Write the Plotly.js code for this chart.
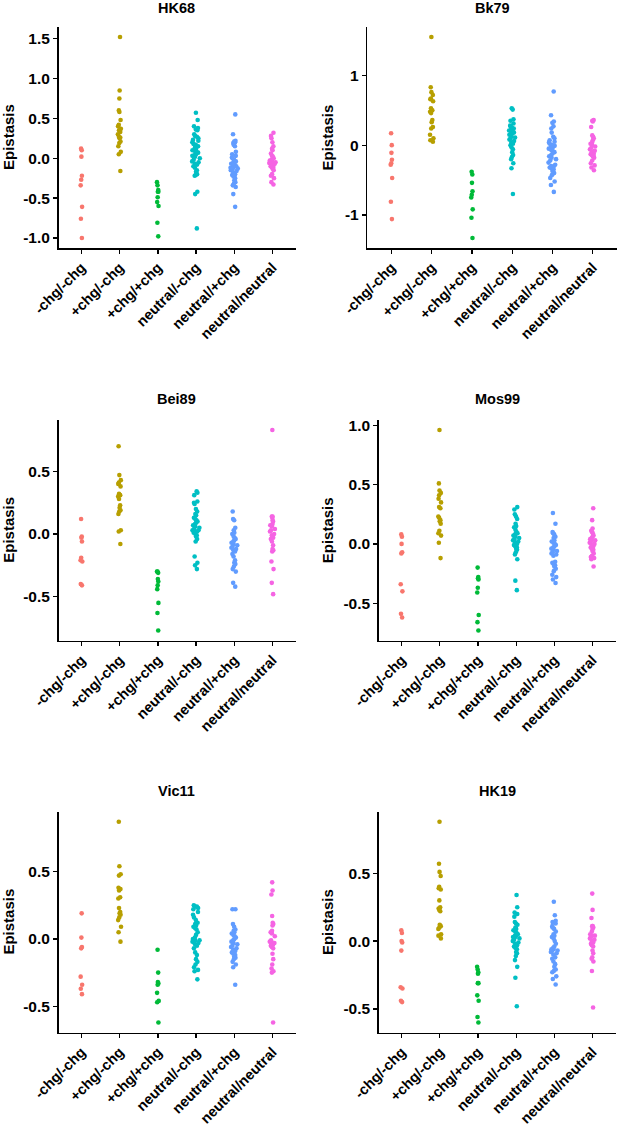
<!DOCTYPE html>
<html>
<head>
<meta charset="utf-8">
<script src="https://cdn.plot.ly/plotly-3.0.1.min.js"></script>
<style>html,body{margin:0;padding:0;background:#ffffff;}#chart{width:617px;height:1129px;}</style>
</head>
<body>
<div id="chart"></div>
<script>
// ---------- categories / colours ----------
const categories = ['-chg/-chg', '+chg/-chg', '+chg/+chg', 'neutral/-chg', 'neutral/+chg', 'neutral/neutral'];
const groupColors = ['#F8766D', '#B79F00', '#00BA38', '#00BFC4', '#619CFF', '#F564E3'];
const panelNames = ['HK68', 'Bk79', 'Bei89', 'Mos99', 'Vic11', 'HK19'];

// ---------- HK68 ----------
const hk68_mm = [0.12, 0.10, 0.02, -0.22, -0.27, -0.34, -0.61, -0.76, -1.00];
const hk68_pm = [1.52, 0.85, 0.75, 0.60, 0.58, 0.48, 0.42, 0.40, 0.37, 0.35, 0.33, 0.30, 0.27, 0.26, 0.25, 0.21, 0.19, 0.15, 0.08, 0.05, -0.16];
const hk68_pp = [-0.30, -0.34, -0.40, -0.42, -0.42, -0.49, -0.55, -0.60, -0.81, -0.98];
const hk68_nm = [0.57, 0.48, 0.40, 0.38, 0.36, 0.35, 0.30, 0.28, 0.27, 0.25, 0.23, 0.22, 0.20, 0.18, 0.17, 0.15, 0.13, 0.12, 0.10, 0.09, 0.08, 0.07, 0.05, 0.04, 0.03, 0.02, 0.00, -0.02, -0.04, -0.05, -0.07, -0.08, -0.10, -0.12, -0.15, -0.17, -0.20, -0.21, -0.22, -0.42, -0.45, -0.88];
const hk68_np = [0.55, 0.30, 0.22, 0.21, 0.20, 0.19, 0.17, 0.15, 0.08, 0.05, 0.03, 0.01, 0.00, -0.02, -0.04, -0.05, -0.06, -0.07, -0.08, -0.09, -0.10, -0.10, -0.11, -0.12, -0.12, -0.13, -0.14, -0.15, -0.16, -0.18, -0.20, -0.21, -0.23, -0.25, -0.28, -0.30, -0.32, -0.34, -0.36, -0.45, -0.61];
const hk68_nn = [0.32, 0.28, 0.25, 0.20, 0.15, 0.12, 0.10, 0.06, 0.03, 0.02, 0.00, -0.01, -0.02, -0.03, -0.04, -0.05, -0.05, -0.06, -0.07, -0.08, -0.09, -0.10, -0.11, -0.12, -0.13, -0.15, -0.20, -0.22, -0.25, -0.30, -0.33];

// ---------- Bk79 ----------
const bk79_mm = [0.17, 0.00, -0.11, -0.21, -0.26, -0.28, -0.47, -0.81, -1.06];
const bk79_pm = [1.55, 0.83, 0.76, 0.72, 0.67, 0.66, 0.63, 0.53, 0.50, 0.48, 0.46, 0.36, 0.33, 0.26, 0.24, 0.15, 0.10, 0.07, 0.05];
const bk79_pp = [-0.38, -0.42, -0.54, -0.66, -0.71, -0.75, -0.92, -1.04, -1.33];
const bk79_nm = [0.53, 0.51, 0.37, 0.35, 0.31, 0.28, 0.27, 0.25, 0.24, 0.23, 0.22, 0.21, 0.20, 0.19, 0.18, 0.17, 0.16, 0.15, 0.13, 0.11, 0.10, 0.08, 0.06, 0.04, 0.02, 0.00, -0.03, -0.06, -0.10, -0.14, -0.17, -0.20, -0.26, -0.33, -0.70];
const bk79_np = [0.77, 0.43, 0.34, 0.32, 0.27, 0.24, 0.18, 0.12, 0.10, 0.07, 0.05, 0.04, 0.02, 0.00, -0.01, -0.02, -0.04, -0.05, -0.07, -0.09, -0.10, -0.12, -0.14, -0.16, -0.18, -0.20, -0.22, -0.25, -0.28, -0.30, -0.31, -0.32, -0.33, -0.35, -0.37, -0.40, -0.43, -0.47, -0.52, -0.57, -0.67];
const bk79_nn = [0.36, 0.35, 0.34, 0.26, 0.14, 0.12, 0.10, 0.07, 0.04, 0.02, 0.00, -0.02, -0.04, -0.06, -0.08, -0.10, -0.12, -0.13, -0.14, -0.15, -0.16, -0.18, -0.22, -0.26, -0.29, -0.32, -0.36];

// ---------- Bei89 ----------
const bei89_mm = [0.12, -0.02, -0.03, -0.06, -0.19, -0.21, -0.22, -0.40, -0.41];
const bei89_pm = [0.70, 0.47, 0.43, 0.41, 0.40, 0.38, 0.32, 0.31, 0.30, 0.28, 0.23, 0.21, 0.19, 0.18, 0.16, 0.03, 0.02, -0.08];
const bei89_pp = [-0.30, -0.30, -0.31, -0.36, -0.38, -0.41, -0.44, -0.55, -0.63, -0.77];
const bei89_nm = [0.34, 0.33, 0.31, 0.26, 0.25, 0.24, 0.20, 0.18, 0.16, 0.15, 0.13, 0.12, 0.11, 0.10, 0.09, 0.08, 0.07, 0.06, 0.05, 0.04, 0.03, 0.03, 0.02, 0.02, 0.01, 0.00, -0.01, -0.02, -0.04, -0.06, -0.18, -0.23, -0.25, -0.28];
const bei89_np = [0.18, 0.12, 0.11, 0.05, 0.03, 0.01, 0.00, -0.02, -0.03, -0.04, -0.05, -0.06, -0.07, -0.08, -0.09, -0.10, -0.11, -0.12, -0.13, -0.14, -0.16, -0.18, -0.21, -0.23, -0.24, -0.26, -0.28, -0.30, -0.39, -0.42];
const bei89_nn = [0.83, 0.14, 0.14, 0.13, 0.11, 0.10, 0.08, 0.07, 0.07, 0.06, 0.04, 0.03, 0.02, 0.00, -0.01, -0.03, -0.04, -0.06, -0.09, -0.12, -0.13, -0.14, -0.22, -0.28, -0.39, -0.48];

// ---------- Mos99 ----------
const mos99_mm = [0.08, 0.06, 0.00, -0.07, -0.08, -0.34, -0.40, -0.59, -0.62];
const mos99_pm = [0.96, 0.51, 0.45, 0.43, 0.41, 0.38, 0.35, 0.31, 0.30, 0.23, 0.22, 0.20, 0.19, 0.17, 0.11, 0.09, 0.07, 0.01, -0.12];
const mos99_pp = [-0.20, -0.28, -0.29, -0.30, -0.37, -0.41, -0.60, -0.66, -0.73];
const mos99_nm = [0.31, 0.29, 0.25, 0.23, 0.21, 0.17, 0.15, 0.14, 0.12, 0.10, 0.09, 0.09, 0.08, 0.07, 0.06, 0.05, 0.04, 0.03, 0.02, 0.01, 0.00, -0.01, -0.02, -0.03, -0.04, -0.05, -0.07, -0.09, -0.13, -0.31, -0.39];
const mos99_np = [0.26, 0.17, 0.10, 0.09, 0.08, 0.06, 0.05, 0.03, 0.02, 0.01, 0.00, -0.01, -0.02, -0.03, -0.04, -0.05, -0.06, -0.07, -0.08, -0.09, -0.10, -0.15, -0.16, -0.17, -0.18, -0.19, -0.21, -0.23, -0.26, -0.28, -0.30, -0.33];
const mos99_nn = [0.30, 0.20, 0.13, 0.11, 0.10, 0.09, 0.07, 0.06, 0.05, 0.04, 0.03, 0.03, 0.02, 0.01, 0.00, -0.01, -0.02, -0.03, -0.04, -0.05, -0.06, -0.08, -0.10, -0.11, -0.12, -0.13, -0.19];

// ---------- Vic11 ----------
const vic11_mm = [0.19, 0.01, -0.06, -0.07, -0.28, -0.34, -0.37, -0.41];
const vic11_pm = [0.87, 0.54, 0.48, 0.47, 0.38, 0.37, 0.36, 0.31, 0.30, 0.23, 0.20, 0.19, 0.18, 0.16, 0.14, 0.09, 0.05, -0.02];
const vic11_pp = [-0.08, -0.25, -0.32, -0.33, -0.34, -0.40, -0.46, -0.47, -0.62];
const vic11_nm = [0.25, 0.24, 0.24, 0.23, 0.22, 0.20, 0.18, 0.16, 0.14, 0.12, 0.11, 0.10, 0.09, 0.08, 0.07, 0.05, 0.03, 0.01, 0.00, -0.01, -0.01, -0.02, -0.02, -0.03, -0.04, -0.05, -0.07, -0.10, -0.12, -0.15, -0.17, -0.19, -0.21, -0.23, -0.24, -0.30];
const vic11_np = [0.22, 0.22, 0.11, 0.09, 0.07, 0.06, 0.05, 0.04, 0.03, 0.02, 0.01, 0.00, -0.01, -0.02, -0.03, -0.04, -0.05, -0.06, -0.07, -0.08, -0.09, -0.10, -0.11, -0.12, -0.13, -0.14, -0.15, -0.17, -0.19, -0.21, -0.34];
const vic11_nn = [0.42, 0.36, 0.33, 0.17, 0.12, 0.11, 0.10, 0.06, 0.05, 0.04, 0.02, -0.01, -0.02, -0.03, -0.03, -0.04, -0.05, -0.06, -0.07, -0.11, -0.15, -0.19, -0.22, -0.24, -0.25, -0.62];

// ---------- HK19 ----------
const hk19_mm = [0.08, 0.06, 0.00, -0.01, -0.07, -0.34, -0.35, -0.44, -0.45];
const hk19_pm = [0.88, 0.57, 0.51, 0.48, 0.40, 0.39, 0.38, 0.30, 0.25, 0.24, 0.23, 0.22, 0.12, 0.11, 0.10, 0.09, 0.05, 0.04, 0.02];
const hk19_pp = [-0.19, -0.21, -0.23, -0.24, -0.31, -0.31, -0.40, -0.44, -0.56, -0.60];
const hk19_nm = [0.34, 0.25, 0.21, 0.20, 0.18, 0.14, 0.13, 0.12, 0.10, 0.09, 0.08, 0.07, 0.06, 0.05, 0.04, 0.04, 0.03, 0.03, 0.02, 0.01, 0.00, -0.01, -0.02, -0.03, -0.04, -0.05, -0.06, -0.08, -0.09, -0.11, -0.14, -0.19, -0.27, -0.48];
const hk19_np = [0.29, 0.19, 0.15, 0.14, 0.13, 0.11, 0.10, 0.09, 0.07, 0.05, 0.04, 0.03, 0.02, 0.00, -0.02, -0.04, -0.05, -0.06, -0.06, -0.07, -0.07, -0.08, -0.09, -0.10, -0.12, -0.13, -0.15, -0.17, -0.19, -0.21, -0.22, -0.23, -0.26, -0.28, -0.32];
const hk19_nn = [0.35, 0.23, 0.17, 0.11, 0.11, 0.10, 0.09, 0.07, 0.05, 0.04, 0.04, 0.03, 0.02, 0.01, 0.00, -0.01, -0.02, -0.03, -0.04, -0.07, -0.09, -0.12, -0.13, -0.15, -0.22, -0.49];

// ---------- y tick values / labels ----------
const hk68TickVals = [-1.0, -0.5, 0.0, 0.5, 1.0, 1.5];
const hk68TickText = ['-1.0', '-0.5', '0.0', '0.5', '1.0', '1.5'];
const bk79TickVals = [-1, 0, 1];
const bk79TickText = ['-1', '0', '1'];
const bei89TickVals = [-0.5, 0.0, 0.5];
const bei89TickText = ['-0.5', '0.0', '0.5'];
const mos99TickVals = [-0.5, 0.0, 0.5, 1.0];
const mos99TickText = ['-0.5', '0.0', '0.5', '1.0'];
const vic11TickVals = [-0.5, 0.0, 0.5];
const vic11TickText = ['-0.5', '0.0', '0.5'];
const hk19TickVals = [-0.5, 0.0, 0.5];
const hk19TickText = ['-0.5', '0.0', '0.5'];

const panelSeries = [
  [hk68_mm, hk68_pm, hk68_pp, hk68_nm, hk68_np, hk68_nn],
  [bk79_mm, bk79_pm, bk79_pp, bk79_nm, bk79_np, bk79_nn],
  [bei89_mm, bei89_pm, bei89_pp, bei89_nm, bei89_np, bei89_nn],
  [mos99_mm, mos99_pm, mos99_pp, mos99_nm, mos99_np, mos99_nn],
  [vic11_mm, vic11_pm, vic11_pp, vic11_nm, vic11_np, vic11_nn],
  [hk19_mm, hk19_pm, hk19_pp, hk19_nm, hk19_np, hk19_nn]
];
const panelTicks = [
  [hk68TickVals, hk68TickText], [bk79TickVals, bk79TickText],
  [bei89TickVals, bei89TickText], [mos99TickVals, mos99TickText],
  [vic11TickVals, vic11TickText], [hk19TickVals, hk19TickText]
];

// ---------- layout geometry (pixels) ----------
const W = 617, H = 1129;
const rowPx = [[27, 248], [420, 640.5], [811.7, 1032.5]];
const colPx = [[58.5, 295.5], [367.3, 617], [58.5, 295.5], [378.7, 615.5], [58.5, 295.5], [378.7, 615.5]];
const titleYPx = [8, 399, 790.7];
const yTitleXPx = [8.5, 327];

const FONT = '"Liberation Sans", Arial, Helvetica, sans-serif';
const px2x = p => p / W;
const px2y = p => 1 - p / H;

const traces = [];
const layout = {
  width: W, height: H,
  margin: {l: 0, r: 0, t: 0, b: 0, pad: 0},
  paper_bgcolor: '#ffffff', plot_bgcolor: '#ffffff',
  showlegend: false,
  font: {family: FONT, color: '#000000'},
  annotations: []
};

panelNames.forEach((name, i) => {
  const k = i + 1;
  const xa = 'xaxis' + (k === 1 ? '' : k);
  const ya = 'yaxis' + (k === 1 ? '' : k);
  const xr = 'x' + (k === 1 ? '' : k);
  const yr = 'y' + (k === 1 ? '' : k);
  const row = Math.floor(i / 2), col = i % 2;
  const series = panelSeries[i];

  const all = [].concat(...series);
  const mn = Math.min(...all), mx = Math.max(...all);
  const ext = 0.05 * (mx - mn);

  series.forEach((vals, c) => {
    // swarm spread grows with group size (sparse groups stay nearly in a line)
    const jit = Math.min(0.5, 0.011 * vals.length + 0.02);
    traces.push({
      type: 'box',
      name: categories[c],
      x: vals.map(() => categories[c]),
      y: vals,
      xaxis: xr, yaxis: yr,
      boxpoints: 'all', jitter: jit, pointpos: 0,
      marker: {color: groupColors[c], size: 4.6, line: {width: 0}},
      line: {width: 0, color: 'rgba(0,0,0,0)'},
      fillcolor: 'rgba(0,0,0,0)',
      whiskerwidth: 0,
      hoveron: 'points',
      showlegend: false
    });
  });

  const dom = colPx[i];
  layout[xa] = {
    domain: [px2x(dom[0]), px2x(dom[1])],
    anchor: yr,
    type: 'category',
    categoryorder: 'array', categoryarray: categories,
    range: [-0.6, 5.6],
    showline: true, linecolor: '#000000', linewidth: 1.5,
    ticks: 'outside', ticklen: 4, tickwidth: 1.3, tickcolor: '#000000',
    tickangle: -45,
    tickfont: {family: FONT, size: 14.5, color: '#000000', weight: 'bold'},
    showgrid: false, zeroline: false, fixedrange: true, automargin: false
  };
  layout[ya] = {
    domain: [px2y(rowPx[row][1]), px2y(rowPx[row][0])],
    anchor: xr,
    range: [mn - ext, mx + ext],
    tickmode: 'array', tickvals: panelTicks[i][0], ticktext: panelTicks[i][1],
    showline: true, linecolor: '#000000', linewidth: 1.5,
    ticks: 'outside', ticklen: 4, tickwidth: 1.3, tickcolor: '#000000',
    tickfont: {family: FONT, size: 15.5, color: '#000000', weight: 'bold'},
    showgrid: false, zeroline: false, fixedrange: true, automargin: false
  };

  // panel title
  layout.annotations.push({
    text: name, xref: 'paper', yref: 'paper',
    x: px2x((dom[0] + dom[1]) / 2), y: px2y(titleYPx[row]),
    xanchor: 'center', yanchor: 'middle', showarrow: false,
    font: {family: FONT, size: 14.5, color: '#000000', weight: 'bold'}
  });
  // y axis title
  layout.annotations.push({
    text: 'Epistasis', xref: 'paper', yref: 'paper',
    x: px2x(yTitleXPx[col]), y: px2y((rowPx[row][0] + rowPx[row][1]) / 2),
    xanchor: 'center', yanchor: 'middle', textangle: -90, showarrow: false,
    font: {family: FONT, size: 15, color: '#000000', weight: 'bold'}
  });
});

Plotly.newPlot('chart', traces, layout, {displayModeBar: false, staticPlot: true});
</script>
</body>
</html>
